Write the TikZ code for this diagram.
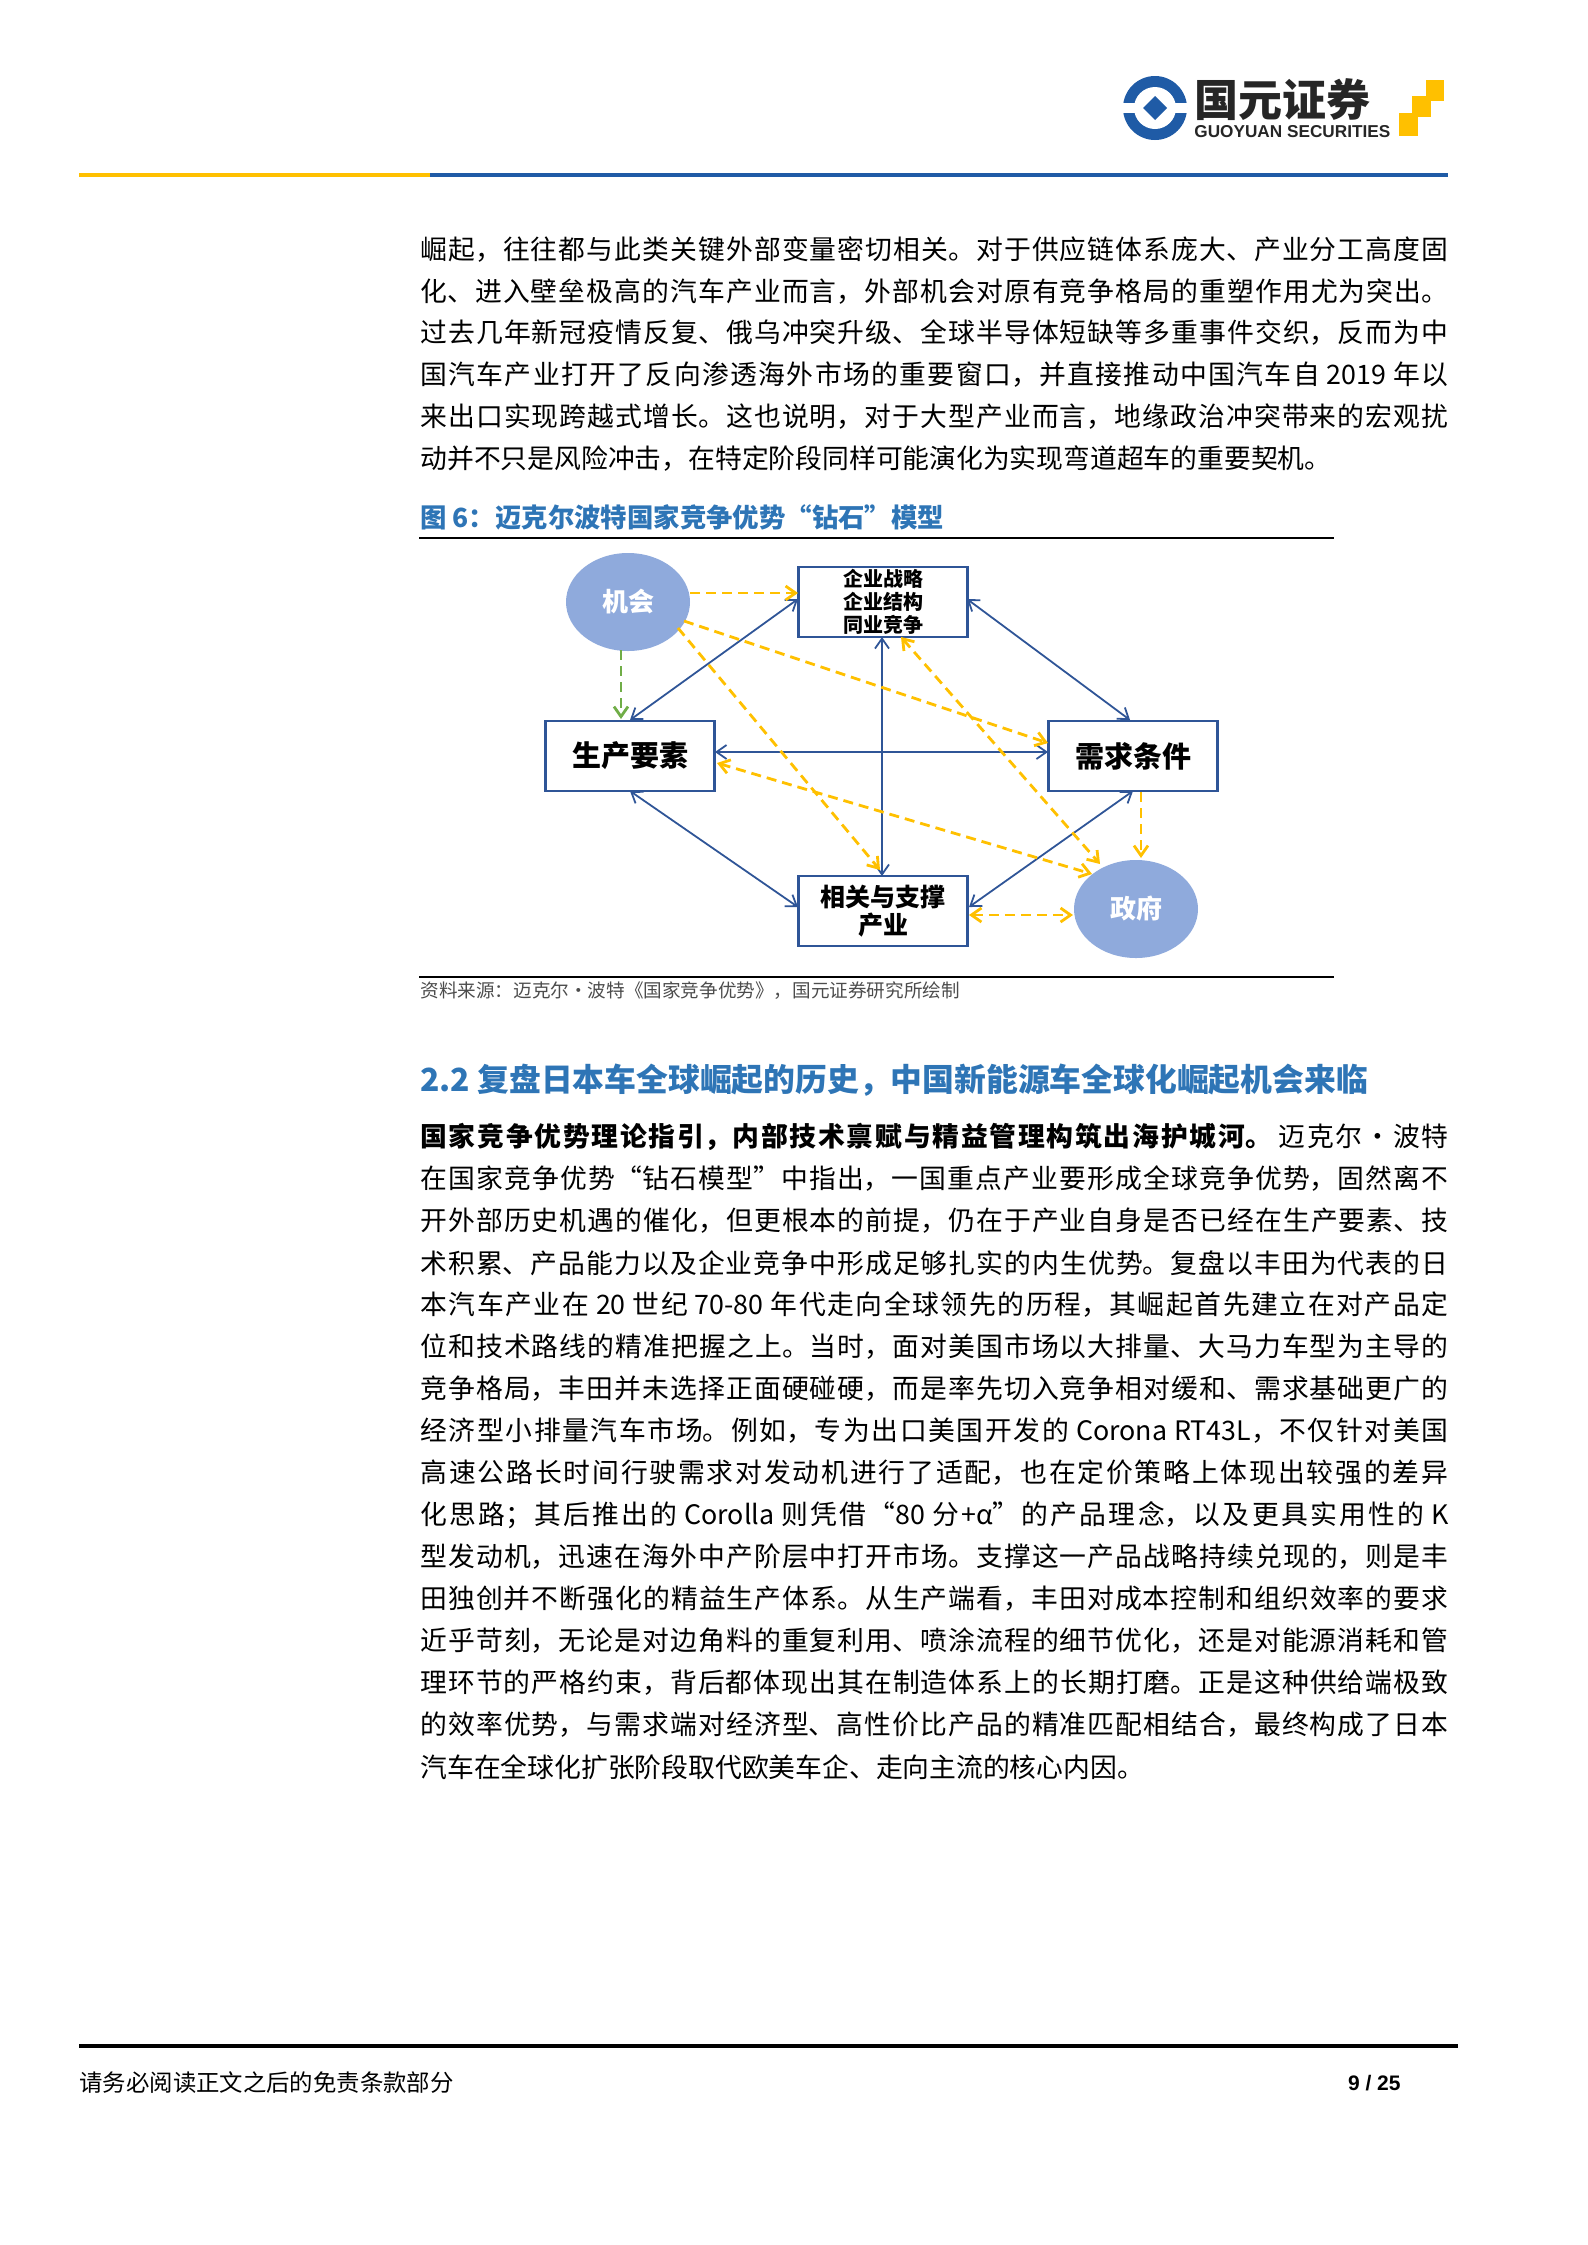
\documentclass[tikz,border=0pt]{standalone}
\usepackage{fontspec}
\setmainfont{Noto Sans CJK SC}
\setsansfont{Liberation Sans}
\usetikzlibrary{arrows.meta,shapes.geometric}
\XeTeXlinebreaklocale "zh"
\XeTeXlinebreakskip=0pt plus 3pt
\definecolor{bblue}{HTML}{2F5597}
\definecolor{efill}{HTML}{8FAADC}
\definecolor{gold}{HTML}{FFC000}
\definecolor{ggreen}{HTML}{70AD47}
\definecolor{capblue}{HTML}{2E75B6}
\definecolor{logoblue}{HTML}{1F5BA6}
\newcommand{\jl}[1]{\parbox{514pt}{\parindent=0pt\parfillskip=0pt\relax #1}}
\newcommand{\fs}{\hspace{3.5pt}}
\begin{document}
\begin{tikzpicture}[x=0.5pt,y=-0.5pt,
  txt/.style={anchor=west,inner sep=0pt,font=\fontsize{13.4}{16}\selectfont},
  bx/.style={draw=bblue,line width=1.1pt,fill=white,minimum width=84.5pt,minimum height=35pt,inner sep=0pt,align=center,font=\bfseries},
  el/.style={ellipse,fill=efill,minimum width=62pt,minimum height=49pt,inner sep=0pt,text=white,font=\bfseries\fontsize{13}{15}\selectfont},
  blu/.style={draw=bblue,line width=0.9pt,{Straight Barb[length=5pt,width=7pt]}-{Straight Barb[length=5pt,width=7pt]}},
  gd/.style={draw=gold,line width=1.4pt,dash pattern=on 5pt off 3pt,-{Straight Barb[length=5pt,width=7pt]}},
  gdd/.style={gd,{Straight Barb[length=5pt,width=7pt]}-{Straight Barb[length=5pt,width=7pt]}}]
\useasboundingbox (0,0) rectangle (1588,2245);
% header logo
\fill[logoblue] (1155,108) circle (32);
\fill[white] (1155,108) circle (21);
\fill[white] (1123,103) rectangle (1140,113);
\fill[white] (1170,103) rectangle (1187,113);
\fill[logoblue] (1155,96) -- (1167,108) -- (1155,120) -- (1143,108) -- cycle;
\node[anchor=west,inner sep=0pt,font=\bfseries\fontsize{22}{24}\selectfont,text=black!85] (logo) at (1194,100) {国元证券};
\node[anchor=west,inner sep=0pt,font=\sffamily\bfseries\fontsize{8.6}{10}\selectfont,text=black!85] (logo2) at (1194,132) {GUOYUAN SECURITIES};
\fill[gold] (1399,113) rectangle (1418,136);
\fill[gold] (1412,96) rectangle (1431,117);
\fill[gold] (1426,80) rectangle (1444,101);
% header rules
\fill[gold] (79,173) rectangle (430,177);
\fill[logoblue] (430,173) rectangle (1448,177);
% paragraph 1
\node[txt] (p1) at (420,250) {\jl{崛起，往往都与此类关键外部变量密切相关。对于供应链体系庞大、产业分工高度固}};
\node[txt] (p2) at (420,292) {\jl{化、进入壁垒极高的汽车产业而言，外部机会对原有竞争格局的重塑作用尤为突出。}};
\node[txt] (p3) at (420,333) {\jl{过去几年新冠疫情反复、俄乌冲突升级、全球半导体短缺等多重事件交织，反而为中}};
\node[txt] (p4) at (420,375) {\jl{国汽车产业打开了反向渗透海外市场的重要窗口，并直接推动中国汽车自\fs{}2019\fs{}年以}};
\node[txt] (p5) at (420,417) {\jl{来出口实现跨越式增长。这也说明，对于大型产业而言，地缘政治冲突带来的宏观扰}};
\node[txt] (p6) at (420,459) {动并不只是风险冲击，在特定阶段同样可能演化为实现弯道超车的重要契机。};
% caption
\node[anchor=west,inner sep=0pt,text=capblue,font=\bfseries\fontsize{13.2}{15}\selectfont] (cap) at (420,517) {图 6：迈克尔波特国家竞争优势“钻石”模型};
\draw[line width=1.2pt] (419,538) -- (1334,538);
% diagram
\node[bx,font=\bfseries\fontsize{10}{11.5}\selectfont] (S) at (883,602) {企业战略\\企业结构\\同业竞争};
\node[bx,font=\bfseries\fontsize{14.5}{16}\selectfont] (F) at (630,756) {生产要素};
\node[bx,font=\bfseries\fontsize{14.5}{16}\selectfont] (D) at (1133,756) {需求条件};
\node[bx,font=\bfseries\fontsize{12.5}{14}\selectfont] (R) at (883,911) {相关与支撑\\产业};
\node[el] (C) at (628,602) {机会};
\node[el] (G) at (1136,909) {政府};
\coordinate (c1) at (690,593); \coordinate (s1) at (798,593);
\coordinate (c2) at (684,621); \coordinate (d2) at (1048,743);
\coordinate (c3) at (678,628); \coordinate (r3) at (880,870);
\coordinate (c4) at (621,650); \coordinate (f4) at (621,719);
\coordinate (f5) at (717,763); \coordinate (g5) at (1092,874);
\coordinate (s6) at (901,637); \coordinate (g6) at (1100,864);
\coordinate (d7) at (1141,792); \coordinate (g7) at (1141,858);
\coordinate (r8) at (969,915); \coordinate (g8) at (1073,915);
\coordinate (sa) at (798,599); \coordinate (fa) at (630,720);
\coordinate (sb) at (967,599); \coordinate (db) at (1130,720);
\coordinate (sc) at (882,637); \coordinate (rc) at (882,876);
\coordinate (fd) at (715,752); \coordinate (dd) at (1048,752);
\coordinate (fe) at (630,791); \coordinate (re) at (798,907);
\coordinate (df) at (1133,791); \coordinate (rf) at (969,907);
\draw[blu] (sa) -- (fa);
\draw[blu] (sb) -- (db);
\draw[blu] (sc) -- (rc);
\draw[blu] (fd) -- (dd);
\draw[blu] (fe) -- (re);
\draw[blu] (df) -- (rf);
\draw[gd] (c1) -- (s1);
\draw[gd] (c2) -- (d2);
\draw[gd] (c3) -- (r3);
\draw[gd,draw=ggreen] (c4) -- (f4);
\draw[gdd] (f5) -- (g5);
\draw[gdd] (s6) -- (g6);
\draw[gd] (d7) -- (g7);
\draw[gdd] (r8) -- (g8);
\draw[line width=1.2pt] (419,977) -- (1334,977);
\node[anchor=west,inner sep=0pt,text=black!70,font=\fontsize{9.3}{10}\selectfont] (src) at (420,991) {资料来源：迈克尔·波特《国家竞争优势》，国元证券研究所绘制};
% section heading
\node[anchor=west,inner sep=0pt,text=capblue,font=\bfseries\fontsize{15.9}{18}\selectfont] (sec) at (420,1080) {2.2 复盘日本车全球崛起的历史，中国新能源车全球化崛起机会来临};
% paragraph 2
\node[txt] (q1) at (420,1137) {\jl{\textbf{国家竞争优势理论指引，内部技术禀赋与精益管理构筑出海护城河。}\fs{}迈克尔·波特}};
\node[txt] (q2) at (420,1179) {\jl{在国家竞争优势“钻石模型”中指出，一国重点产业要形成全球竞争优势，固然离不}};
\node[txt] (q3) at (420,1221) {\jl{开外部历史机遇的催化，但更根本的前提，仍在于产业自身是否已经在生产要素、技}};
\node[txt] (q4) at (420,1263) {\jl{术积累、产品能力以及企业竞争中形成足够扎实的内生优势。复盘以丰田为代表的日}};
\node[txt] (q5) at (420,1305) {\jl{本汽车产业在\fs{}20\fs{}世纪\fs{}70-80\fs{}年代走向全球领先的历程，其崛起首先建立在对产品定}};
\node[txt] (q6) at (420,1347) {\jl{位和技术路线的精准把握之上。当时，面对美国市场以大排量、大马力车型为主导的}};
\node[txt] (q7) at (420,1389) {\jl{竞争格局，丰田并未选择正面硬碰硬，而是率先切入竞争相对缓和、需求基础更广的}};
\node[txt] (q8) at (420,1431) {\jl{经济型小排量汽车市场。例如，专为出口美国开发的\fs{}Corona\fs{}RT43L，不仅针对美国}};
\node[txt] (q9) at (420,1473) {\jl{高速公路长时间行驶需求对发动机进行了适配，也在定价策略上体现出较强的差异}};
\node[txt] (q10) at (420,1515) {\jl{化思路；其后推出的\fs{}Corolla\fs{}则凭借“80\fs{}分+α”的产品理念，以及更具实用性的\fs{}K}};
\node[txt] (q11) at (420,1557) {\jl{型发动机，迅速在海外中产阶层中打开市场。支撑这一产品战略持续兑现的，则是丰}};
\node[txt] (q12) at (420,1599) {\jl{田独创并不断强化的精益生产体系。从生产端看，丰田对成本控制和组织效率的要求}};
\node[txt] (q13) at (420,1641) {\jl{近乎苛刻，无论是对边角料的重复利用、喷涂流程的细节优化，还是对能源消耗和管}};
\node[txt] (q14) at (420,1683) {\jl{理环节的严格约束，背后都体现出其在制造体系上的长期打磨。正是这种供给端极致}};
\node[txt] (q15) at (420,1725) {\jl{的效率优势，与需求端对经济型、高性价比产品的精准匹配相结合，最终构成了日本}};
\node[txt] (q16) at (420,1767) {汽车在全球化扩张阶段取代欧美车企、走向主流的核心内因。};
% footer
\fill[black] (79,2044) rectangle (1458,2048);
\node[anchor=west,inner sep=0pt,font=\fontsize{11.7}{13}\selectfont] (ft) at (79,2083) {请务必阅读正文之后的免责条款部分};
\node[anchor=east,inner sep=0pt,font=\sffamily\bfseries\fontsize{10.5}{12}\selectfont] (pg) at (1401,2083) {9 / 25};
\end{tikzpicture}
\end{document}
